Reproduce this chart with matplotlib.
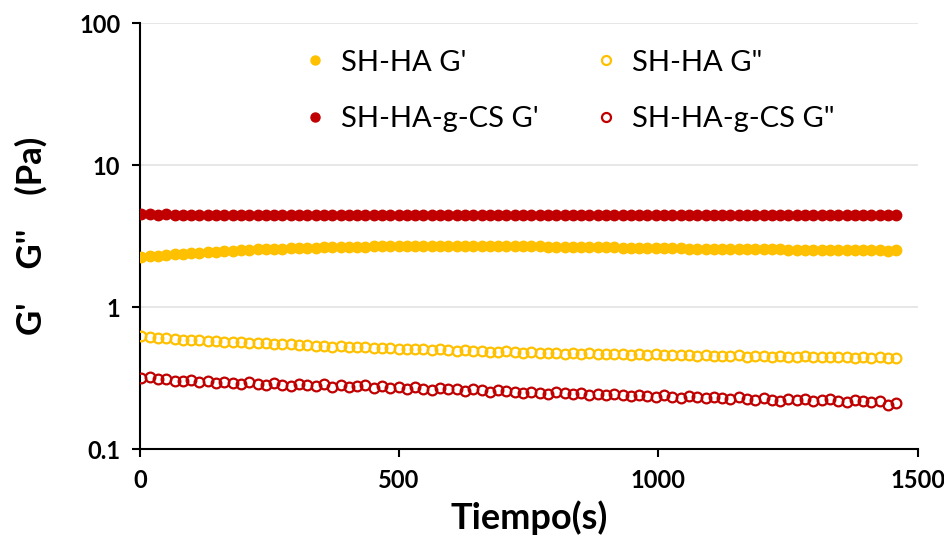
import matplotlib.pyplot as plt
from matplotlib.lines import Line2D

# tiempo (s)
tiempo = [3, 19, 35, 51, 67, 83, 99, 115, 131, 147, 163, 179, 195, 211, 227, 243,
          259, 275, 291, 307, 323, 339, 355, 371, 387, 403, 419, 435, 451, 467,
          483, 499, 515, 531, 547, 563, 579, 595, 611, 627, 643, 659, 675, 691,
          707, 723, 739, 755, 771, 787, 803, 819, 835, 851, 867, 883, 899, 915,
          931, 947, 963, 979, 995, 1011, 1027, 1043, 1059, 1075, 1091, 1107,
          1123, 1139, 1155, 1171, 1187, 1203, 1219, 1235, 1251, 1267, 1283,
          1299, 1315, 1331, 1347, 1363, 1379, 1395, 1411, 1427, 1443, 1459]

ha_g1 = [2.26, 2.29, 2.31, 2.33, 2.36, 2.38, 2.40, 2.42, 2.44, 2.46,
         2.48, 2.50, 2.52, 2.53, 2.55, 2.56, 2.57, 2.59, 2.60, 2.61,
         2.62, 2.63, 2.64, 2.65, 2.66, 2.66, 2.67, 2.67, 2.68, 2.68,
         2.69, 2.69, 2.69, 2.70, 2.70, 2.70, 2.70, 2.71, 2.70, 2.70,
         2.70, 2.70, 2.69, 2.70, 2.69, 2.69, 2.68, 2.68, 2.68, 2.67,
         2.67, 2.66, 2.66, 2.66, 2.65, 2.65, 2.64, 2.64, 2.63, 2.63,
         2.62, 2.62, 2.61, 2.61, 2.60, 2.60, 2.59, 2.59, 2.58, 2.58,
         2.57, 2.57, 2.57, 2.56, 2.56, 2.55, 2.55, 2.55, 2.54, 2.54,
         2.54, 2.53, 2.53, 2.53, 2.52, 2.52, 2.52, 2.51, 2.51, 2.51,
         2.50, 2.51]

ha_g2 = [0.625, 0.615, 0.610, 0.603, 0.600, 0.592, 0.588, 0.590, 0.580, 0.576,
         0.572, 0.565, 0.566, 0.558, 0.556, 0.560, 0.548, 0.547, 0.550, 0.543,
         0.540, 0.536, 0.538, 0.528, 0.532, 0.525, 0.522, 0.527, 0.518, 0.515,
         0.520, 0.512, 0.508, 0.510, 0.505, 0.500, 0.507, 0.498, 0.496, 0.500,
         0.492, 0.494, 0.488, 0.485, 0.490, 0.482, 0.478, 0.484, 0.476, 0.478,
         0.480, 0.472, 0.475, 0.470, 0.476, 0.468, 0.471, 0.466, 0.472, 0.465,
         0.468, 0.462, 0.466, 0.460, 0.464, 0.458, 0.462, 0.455, 0.460, 0.457,
         0.456, 0.452, 0.458, 0.450, 0.455, 0.452, 0.448, 0.454, 0.450, 0.446,
         0.452, 0.447, 0.450, 0.444, 0.448, 0.445, 0.442, 0.446, 0.441, 0.444,
         0.438, 0.442]

cs_g1 = [4.52, 4.50, 4.49, 4.50, 4.48, 4.49, 4.47, 4.48, 4.47, 4.46,
         4.47, 4.46, 4.46, 4.47, 4.45, 4.46, 4.46, 4.45, 4.46, 4.45,
         4.45, 4.46, 4.45, 4.44, 4.45, 4.45, 4.44, 4.45, 4.45, 4.44,
         4.45, 4.44, 4.44, 4.45, 4.44, 4.44, 4.45, 4.44, 4.44, 4.44,
         4.45, 4.44, 4.44, 4.45, 4.44, 4.44, 4.44, 4.45, 4.44, 4.44,
         4.45, 4.44, 4.45, 4.44, 4.44, 4.45, 4.44, 4.45, 4.45, 4.44,
         4.45, 4.45, 4.44, 4.45, 4.45, 4.45, 4.44, 4.45, 4.45, 4.46,
         4.45, 4.45, 4.46, 4.45, 4.45, 4.46, 4.45, 4.46, 4.45, 4.46,
         4.46, 4.45, 4.46, 4.46, 4.45, 4.46, 4.46, 4.45, 4.46, 4.46,
         4.45, 4.46]

cs_g2 = [0.318, 0.322, 0.312, 0.315, 0.305, 0.301, 0.306, 0.298, 0.303, 0.292,
         0.300, 0.295, 0.288, 0.297, 0.290, 0.284, 0.292, 0.286, 0.280, 0.289,
         0.283, 0.278, 0.287, 0.276, 0.282, 0.275, 0.280, 0.284, 0.272, 0.278,
         0.270, 0.276, 0.268, 0.274, 0.266, 0.262, 0.270, 0.264, 0.268, 0.258,
         0.265, 0.260, 0.255, 0.262, 0.256, 0.252, 0.248, 0.255, 0.250, 0.246,
         0.252, 0.248, 0.244, 0.250, 0.242, 0.247, 0.240, 0.245, 0.241, 0.236,
         0.243, 0.238, 0.234, 0.240, 0.235, 0.231, 0.237, 0.232, 0.228, 0.234,
         0.229, 0.225, 0.232, 0.226, 0.222, 0.229, 0.224, 0.219, 0.226, 0.221,
         0.225, 0.218, 0.222, 0.227, 0.220, 0.216, 0.223, 0.219, 0.214, 0.218,
         0.206, 0.211]

series_labels = ["SH-HA G'", 'SH-HA G"', "SH-HA-g-CS G'", 'SH-HA-g-CS G"']
amarillo = "#FFC000"
rojo = "#C00000"

plt.rcParams['font.family'] = ['Lato', 'DejaVu Sans']

fig = plt.figure(figsize=(9.45, 5.48), dpi=100)
ax = fig.add_axes([0.148, 0.180, 0.823, 0.778])

ms = 7.5
ax.plot(tiempo, ha_g1, 'o', color=amarillo, ms=ms, mec=amarillo, zorder=3)
ax.plot(tiempo, cs_g1, 'o', color=rojo, ms=ms, mec=rojo, zorder=3)
ax.plot(tiempo, ha_g2, 'o', mfc='none', mec=amarillo, mew=1.6, ms=ms - 0.5, zorder=3)
ax.plot(tiempo, cs_g2, 'o', mfc='none', mec=rojo, mew=1.6, ms=ms - 0.5, zorder=3)

ax.set_yscale('log')
ax.set_ylim(0.1, 100)
ax.set_xlim(0, 1500)
ax.set_xticks([0, 500, 1000, 1500])
ax.set_yticks([0.1, 1, 10, 100])
ax.set_yticklabels(['0.1', '1', '10', '100'])
ax.minorticks_off()
ax.yaxis.grid(True, color='#e0e0e0', linewidth=1.1)
ax.set_axisbelow(True)

for s in ['top', 'right']:
    ax.spines[s].set_visible(False)
for s in ['left', 'bottom']:
    ax.spines[s].set_linewidth(1.5)
ax.tick_params(axis='both', direction='out', length=6, width=1.5, labelsize=17, pad=8)
for lbl in ax.get_xticklabels() + ax.get_yticklabels():
    lbl.set_fontweight('bold')

ax.set_xlabel('Tiempo(s)', fontsize=26, fontweight='bold', labelpad=6)
ax.set_ylabel("G'    G''    (Pa)", fontsize=25, fontweight='bold', labelpad=23)

handles = [
    Line2D([], [], ls='none', marker='o', color=amarillo, ms=6.5),
    Line2D([], [], ls='none', marker='o', color=rojo, ms=6.5),
    Line2D([], [], ls='none', marker='o', mfc='none', mec=amarillo, mew=1.6, ms=6.5),
    Line2D([], [], ls='none', marker='o', mfc='none', mec=rojo, mew=1.6, ms=6.5),
]
labels = [series_labels[0], series_labels[2], series_labels[1], series_labels[3]]
fig.legend(handles, labels, ncol=2, frameon=False, fontsize=21,
           loc='upper left', bbox_to_anchor=(0.318, 0.92),
           handlelength=0.6, handletextpad=0.6, columnspacing=2.0,
           labelspacing=1.05, borderaxespad=0, borderpad=0.2)

fig.savefig('out.png', dpi=100)
